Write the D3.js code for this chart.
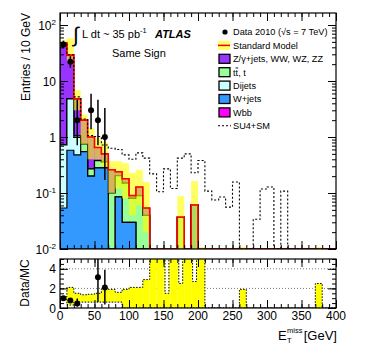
<!DOCTYPE html>
<html>
<head>
<meta charset="utf-8">
<script src="https://cdn.jsdelivr.net/npm/d3@7"></script>
<style>
  body { margin: 0; background: #fff; }
  svg text { font-family: "Liberation Sans", Arial, Helvetica, sans-serif; fill: #000; }
</style>
</head>
<body>
<div id="container"></div>
<script>
// bins of 10 GeV
const binLow = [0,10,20,30,40,50,60,70,80,90,100,110,120,130,140,150,160,170,180,190,
                200,210,220,230,240,250,260,270,280,290,300,310,320,330,340,350,360,370,380,390];

// MC stack components (entries / bin)
const wjets  = [0.054,0.58,0.48,0.55,0.2,0.28,0.28,0,0.085,0.03,0.03,0,0,0,0,0,0,0,0,0.061,
                0,0,0,0,0,0,0,0,0,0,0,0,0,0,0,0,0,0,0,0];
const dijets = [0.67,4.2,0.5,0,0,0,0,0,0,0,0,0,0,0,0,0,0,0,0,0,
                0,0,0,0,0,0,0,0,0,0,0,0,0,0,0,0,0,0,0,0];
const ttbar  = [0,0,0.07,0.2,0.07,0.1,0.08,0.1,0.12,0.12,0.05,0.09,0.04,0,0,0,0,0.037,0,0,
                0,0,0,0,0,0,0,0,0,0,0,0,0,0,0,0,0,0,0,0];
const wbb    = [0,0,0,0,0,0,0,0,0,0,0,0,0,0,0,0,0,0,0,0,
                0,0,0,0,0,0,0,0,0,0,0,0,0,0,0,0,0,0,0,0];
const zjets  = [47.3,24.2,3.75,1.25,0.73,0.27,0.14,0.16,0.035,0.03,0.01,0.038,0.014,0,0,0,0,0,0,0,
                0,0,0,0,0,0,0,0,0,0,0,0,0,0,0,0,0,0,0,0];

// SM uncertainty band
const bandLo = [43,22,3.0,0.75,0.4,0.4,0.3,0.1,0.12,0.08,0.04,0.06,0.02,0,0,0,0,0.001,0,0.001,
                0.001,0,0,0,0,0,0.001,0,0,0,0,0,0,0,0,0,0,0.001,0,0];
const bandHi = [53,58,6.9,2.5,1.45,0.95,0.8,0.37,0.37,0.34,0.23,0.26,0.157,0,0,0,0,0.088,0,0.163,
                0.0108,0,0,0,0,0,0.0108,0,0,0,0,0,0,0,0,0,0,0.0108,0,0];

// SU4 + SM
const su4 = [48.4,29.4,5.2,2.1,1.06,1.02,0.72,0.63,0.6,0.48,0.4,0.52,0.42,0.22,0.105,0.27,0.12,0.42,0.5,0.23,
             0.38,0.108,0.075,0.085,0.056,0.157,0,0,0.034,0.118,0.128,0,0.108,0,0,0,0,0,0,0];

// data 2010
const dataX  = [5,15,25,45,55,65];
const dataY  = [45,22,2,3,2,1];
const dataLo = [38.4,17.3,0.71,1.37,0.71,0.17];
const dataHi = [52.6,27.8,4.64,5.92,4.64,3.30];

// ratio panel
const ratioX  = [5,15,25,55,65];
const ratioY  = [0.99,0.76,0.47,3.13,2.1];
const ratioLo = [0.88,0.62,0.16,0.6,0.35];
const ratioHi = [1.08,0.92,0.98,5.5,3.9];
const rBandLo = [0.85,0.3,0.6,0.6,0.6,0.6,0.6,0.6,0.6,0,0,0,0,0,0,0,0,0,0,0,
                 0,0,0,0,0,0,0,0,0,0,0,0,0,0,0,0,0,0,0,0];
const rBandHi = [1.15,2.1,1.5,1.35,1.4,1.5,2.0,1.9,1.6,1.9,2.1,2.1,2.9,9,9,9,9,9,9,9,
                 9,0,0,0,0,0,1.9,0,0,0,0,0,0,0,0,0,0,2.5,0,0];
const notchBins = [150,170,190];
const notchVal  = [1.5,2.5,2.7];

// ticks / labels
const xTickVals = [0,50,100,150,200,250,300,350,400];
const yTickVals = [0.01,0.1,1,10,100];
const yTickBase = ["10","10","1","10","10"];
const yTickExp  = ["-2","-1","","","2"];
const rTickVals = [0,2,4];

const legendLabels = ["Data 2010 (\u221As = 7 TeV)","Standard Model","Z/\u03B3+jets, WW, WZ, ZZ",
                      "tt, t","Dijets","W+jets","Wbb","SU4+SM"];
const legendColors = [null,"#ffff00","#9933ff","#99ff99","#ccffff","#3399ff","#ff00ff",null];

const svg = d3.select("#container").append("svg")
  .attr("width", 374).attr("height", 363).style("display", "block");

const x = d3.scaleLinear().domain([0, 400]).range([60, 336]);
const y = d3.scaleLog().domain([0.01, 164]).range([249, 13]);
const yr = d3.scaleLinear().domain([0, 5]).range([308, 259]);
const edges = binLow.concat([400]);
const floor = 0.01;

const defs = svg.append("defs");
defs.append("clipPath").attr("id", "clipMain").append("rect")
  .attr("x", 60).attr("y", 13).attr("width", 276).attr("height", 236);
defs.append("clipPath").attr("id", "clipRatio").append("rect")
  .attr("x", 60).attr("y", 259).attr("width", 276).attr("height", 49);

// ---------- main panel ----------
const main = svg.append("g").attr("clip-path", "url(#clipMain)");

const rows = binLow.map((b, i) => ({
  wjets: wjets[i], dijets: dijets[i], ttbar: ttbar[i], wbb: wbb[i], zjets: zjets[i]
}));
const keys = ["wjets", "dijets", "ttbar", "wbb", "zjets"];
const colors = { wjets: "#3399ff", dijets: "#ccffff", ttbar: "#99ff99", wbb: "#ff00ff", zjets: "#9933ff" };
const series = d3.stack().keys(keys)(rows);

const ext = (v) => v.concat([v[v.length - 1]]);
const stepArea = d3.area().curve(d3.curveStepAfter)
  .x((d, i) => x(edges[i])).y0(y(floor)).y1((d) => y(Math.max(d, floor)));
const stepLine = d3.line().curve(d3.curveStepAfter)
  .x((d, i) => x(edges[i])).y((d) => y(Math.max(d, floor)));

// cumulative histograms, drawn from the top one down
series.slice().reverse().forEach((s) => {
  main.append("path")
    .attr("d", stepArea(ext(s.map((d) => d[1]))))
    .attr("fill", colors[s.key])
    .attr("stroke", "#000")
    .attr("stroke-width", 1.2);
});

// uncertainty band
main.selectAll("rect.band")
  .data(binLow.map((b, i) => ({ b, lo: bandLo[i], hi: bandHi[i] })).filter((d) => d.hi > 0))
  .join("rect")
  .attr("class", "band")
  .attr("x", (d) => x(d.b))
  .attr("width", (d) => x(d.b + 10) - x(d.b))
  .attr("y", (d) => y(d.hi))
  .attr("height", (d) => y(Math.max(d.lo, floor)) - y(d.hi))
  .attr("fill", "#ffff00")
  .attr("fill-opacity", 0.62);

const total = series[series.length - 1].map((d) => d[1]);
main.append("path")
  .attr("d", stepLine(ext(total)))
  .attr("fill", "none")
  .attr("stroke", "#ff0000")
  .attr("stroke-width", 1.6);

main.append("path")
  .attr("d", stepLine(ext(su4)))
  .attr("fill", "none")
  .attr("stroke", "#000")
  .attr("stroke-width", 1.1)
  .attr("stroke-dasharray", "2,2");

// data points
const pts = svg.append("g").attr("clip-path", "url(#clipMain)");
dataX.forEach((xv, i) => {
  pts.append("line")
    .attr("x1", x(xv)).attr("x2", x(xv))
    .attr("y1", y(dataHi[i])).attr("y2", y(dataLo[i]))
    .attr("stroke", "#000").attr("stroke-width", 1.5);
  pts.append("circle")
    .attr("cx", x(xv)).attr("cy", y(dataY[i])).attr("r", 3).attr("fill", "#000");
});

// ---------- ratio panel ----------
const rp = svg.append("g").attr("clip-path", "url(#clipRatio)");

[2, 4].forEach((v) => {
  rp.append("line")
    .attr("x1", 60).attr("x2", 336).attr("y1", yr(v)).attr("y2", yr(v))
    .attr("stroke", "#777").attr("stroke-width", 1).attr("stroke-dasharray", "1,2");
});

const rClamp = (v) => yr(Math.max(0, Math.min(v, 5.2)));
rp.selectAll("rect.rband")
  .data(binLow.map((b, i) => ({ b, lo: rBandLo[i], hi: rBandHi[i] })).filter((d) => d.hi > d.lo))
  .join("rect")
  .attr("class", "rband")
  .attr("x", (d) => x(d.b))
  .attr("width", (d) => x(d.b + 10) - x(d.b))
  .attr("y", (d) => rClamp(d.hi))
  .attr("height", (d) => rClamp(d.lo) - rClamp(d.hi))
  .attr("fill", "#ffff00");

const rStep = d3.line().curve(d3.curveStepAfter)
  .x((d, i) => x(edges[i])).y((d) => rClamp(d));
[rBandHi, rBandLo].forEach((arr) => {
  rp.append("path")
    .attr("d", rStep(ext(arr)))
    .attr("fill", "none").attr("stroke", "#000")
    .attr("stroke-width", 1).attr("stroke-dasharray", "1.5,1.5");
});

notchBins.forEach((b, i) => {
  const x0 = x(b) + 1.5, x1 = x(b + 10) - 1.5;
  rp.append("rect")
    .attr("x", x0).attr("width", x1 - x0)
    .attr("y", yr(5.2)).attr("height", yr(notchVal[i]) - yr(5.2))
    .attr("fill", "#fff");
  rp.append("path")
    .attr("d", `M${x0},${yr(5.2)}V${yr(notchVal[i])}H${x1}V${yr(5.2)}`)
    .attr("fill", "none").attr("stroke", "#000")
    .attr("stroke-width", 1).attr("stroke-dasharray", "1.5,1.5");
});

ratioX.forEach((xv, i) => {
  rp.append("line")
    .attr("x1", x(xv)).attr("x2", x(xv))
    .attr("y1", rClamp(ratioHi[i])).attr("y2", rClamp(ratioLo[i]))
    .attr("stroke", "#000").attr("stroke-width", 1.5);
  rp.append("circle")
    .attr("cx", x(xv)).attr("cy", yr(ratioY[i])).attr("r", 3).attr("fill", "#000");
});

// ---------- axes ----------
function ticks(g, axis) {
  g.call(axis).call((s) => s.select(".domain").remove());
  g.selectAll(".tick line").attr("stroke", "#000").attr("stroke-width", 1);
}
const minorX = d3.range(0, 401, 10);
const logMinor = [];
[0.01, 0.1, 1, 10, 100].forEach((d) => {
  for (let k = 1; k <= 9; k++) if (d * k <= 164) logMinor.push(d * k);
});
const rMinor = d3.range(0, 5.01, 0.5);

[[249, 13], [308, 259]].forEach(([bot, top]) => {
  ticks(svg.append("g").attr("transform", `translate(0,${bot})`),
    d3.axisBottom(x).tickValues(minorX).tickSize(-4).tickFormat(""));
  ticks(svg.append("g").attr("transform", `translate(0,${bot})`),
    d3.axisBottom(x).tickValues(xTickVals).tickSize(-8).tickFormat(""));
  ticks(svg.append("g").attr("transform", `translate(0,${top})`),
    d3.axisTop(x).tickValues(minorX).tickSize(-4).tickFormat(""));
  ticks(svg.append("g").attr("transform", `translate(0,${top})`),
    d3.axisTop(x).tickValues(xTickVals).tickSize(-8).tickFormat(""));
});

ticks(svg.append("g").attr("transform", "translate(60,0)"),
  d3.axisLeft(y).tickValues(logMinor).tickSize(-4).tickFormat(""));
ticks(svg.append("g").attr("transform", "translate(60,0)"),
  d3.axisLeft(y).tickValues(yTickVals).tickSize(-8).tickFormat(""));
ticks(svg.append("g").attr("transform", "translate(336,0)"),
  d3.axisRight(y).tickValues(logMinor).tickSize(-4).tickFormat(""));
ticks(svg.append("g").attr("transform", "translate(336,0)"),
  d3.axisRight(y).tickValues(yTickVals).tickSize(-8).tickFormat(""));

ticks(svg.append("g").attr("transform", "translate(60,0)"),
  d3.axisLeft(yr).tickValues(rMinor).tickSize(-4).tickFormat(""));
ticks(svg.append("g").attr("transform", "translate(60,0)"),
  d3.axisLeft(yr).tickValues(rTickVals).tickSize(-8).tickFormat(""));
ticks(svg.append("g").attr("transform", "translate(336,0)"),
  d3.axisRight(yr).tickValues(rMinor).tickSize(-4).tickFormat(""));
ticks(svg.append("g").attr("transform", "translate(336,0)"),
  d3.axisRight(yr).tickValues(rTickVals).tickSize(-8).tickFormat(""));

svg.append("rect").attr("x", 60).attr("y", 13).attr("width", 276).attr("height", 236)
  .attr("fill", "none").attr("stroke", "#000").attr("stroke-width", 1.2);
svg.append("rect").attr("x", 60).attr("y", 259).attr("width", 276).attr("height", 49)
  .attr("fill", "none").attr("stroke", "#000").attr("stroke-width", 1.2);

// tick labels
yTickVals.forEach((v, i) => {
  const t = svg.append("text")
    .attr("x", 56).attr("y", y(v) + 4.5)
    .attr("text-anchor", "end").attr("font-size", 12)
    .text(yTickBase[i]);
  if (yTickExp[i]) t.append("tspan").attr("dy", -5).attr("font-size", 8).text(yTickExp[i]);
});
rTickVals.forEach((v) => {
  svg.append("text").attr("x", 56).attr("y", yr(v) + 4.5)
    .attr("text-anchor", "end").attr("font-size", 12).text(v);
});
xTickVals.forEach((v) => {
  svg.append("text").attr("x", x(v)).attr("y", 320)
    .attr("text-anchor", "middle").attr("font-size", 12).text(v);
});

// axis titles
svg.append("text").attr("transform", "translate(30,13) rotate(-90)")
  .attr("text-anchor", "end").attr("font-size", 12).text("Entries / 10 GeV");
svg.append("text").attr("transform", "translate(29,283) rotate(-90)")
  .attr("text-anchor", "middle").attr("font-size", 12).text("Data/MC");

svg.append("text").attr("x", 337).attr("y", 340).attr("text-anchor", "end")
  .attr("font-size", 13).text("[GeV]");
svg.append("text").attr("x", 278).attr("y", 340).attr("font-size", 13).text("E");
svg.append("text").attr("x", 287).attr("y", 333).attr("font-size", 7.5).text("miss");
svg.append("text").attr("x", 287).attr("y", 343).attr("font-size", 7.5).text("T");

// annotations
svg.append("text").attr("x", 73).attr("y", 42).attr("font-size", 21).text("\u222B");
svg.append("text").attr("x", 82).attr("y", 38).attr("font-size", 11)
  .text("L dt ~ 35 pb")
  .append("tspan").attr("dy", -5).attr("font-size", 7.5).text("-1");
svg.append("text").attr("x", 155).attr("y", 38).attr("font-size", 11)
  .attr("font-weight", "bold").attr("font-style", "italic").text("ATLAS");
svg.append("text").attr("x", 112).attr("y", 57).attr("font-size", 11).text("Same Sign");

// legend
const leg = svg.append("g");
legendLabels.forEach((lab, i) => {
  const cy = 32 + i * 13.4;
  if (i === 0) {
    leg.append("circle").attr("cx", 225).attr("cy", cy).attr("r", 2.6).attr("fill", "#000");
  } else if (i === 1) {
    leg.append("rect").attr("x", 218).attr("y", cy - 4.5).attr("width", 12).attr("height", 9)
      .attr("fill", "#ffff00").attr("fill-opacity", 0.62);
    leg.append("line").attr("x1", 218).attr("x2", 230).attr("y1", cy).attr("y2", cy)
      .attr("stroke", "#ff0000").attr("stroke-width", 1.5);
  } else if (i === legendLabels.length - 1) {
    leg.append("line").attr("x1", 218).attr("x2", 231).attr("y1", cy).attr("y2", cy)
      .attr("stroke", "#000").attr("stroke-width", 1.1).attr("stroke-dasharray", "2,2");
  } else {
    leg.append("rect").attr("x", 219).attr("y", cy - 4.5).attr("width", 11).attr("height", 9)
      .attr("fill", legendColors[i]).attr("stroke", "#000").attr("stroke-width", 1.3);
  }
  const t = leg.append("text").attr("x", 233).attr("y", cy + 3.3).attr("font-size", 9.2);
  if (lab === "tt, t") {
    t.append("tspan").text("t");
    t.append("tspan").style("text-decoration", "overline").text("t");
    t.append("tspan").text(", t");
  } else {
    t.text(lab);
  }
});
</script>
</body>
</html>
